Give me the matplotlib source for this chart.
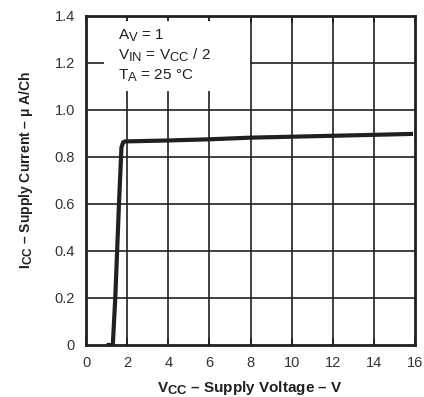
import matplotlib
matplotlib.use("Agg")
import matplotlib.pyplot as plt
import matplotlib._mathtext as mathtext_internals
from matplotlib.patches import Rectangle

plt.rcParams["font.family"] = ["Liberation Sans", "DejaVu Sans"]
plt.rcParams["mathtext.fontset"] = "custom"
plt.rcParams["mathtext.rm"] = "Liberation Sans"
plt.rcParams["mathtext.bf"] = "Liberation Sans:bold"
# datasheet style subscripts are only slightly smaller than the main text
mathtext_internals.SHRINK_FACTOR = 0.85

# supply current vs supply voltage (A_V = 1, T_A = 25 C)
vcc = [1.0, 1.3, 1.42, 1.6, 1.72, 1.8, 1.9, 4.0, 6.0, 8.0, 10.0, 12.0, 14.0, 15.9]
icc = [0.0, 0.0, 0.2, 0.6, 0.84, 0.862, 0.866, 0.87, 0.875, 0.882, 0.886, 0.89, 0.894, 0.898]

x_ticks = [0, 2, 4, 6, 8, 10, 12, 14, 16]
y_ticks = [0, 0.2, 0.4, 0.6, 0.8, 1.0, 1.2, 1.4]
y_tick_labels = ["0", "0.2", "0.4", "0.6", "0.8", "1.0", "1.2", "1.4"]

ink = "#231f20"

fig = plt.figure(figsize=(4.24, 3.97), dpi=100)
ax = fig.add_axes([0.203, 0.131, 0.776, 0.829])

ax.set_xlim(0, 16)
ax.set_ylim(0, 1.4)

# grid drawn by hand so the note box can sit on top of it
for x in x_ticks[1:-1]:
    ax.axvline(x, color=ink, lw=1.2, zorder=1)
for y in y_ticks[1:-1]:
    ax.axhline(y, color=ink, lw=1.2, zorder=1)

ax.add_patch(Rectangle((0.85, 1.08), 7.1, 0.3, facecolor="white",
                       edgecolor="none", zorder=2))

ax.plot(vcc, icc, color=ink, lw=3.0, solid_capstyle="butt",
        solid_joinstyle="round", zorder=4)

notes = [r"A$\mathregular{_V}$ = 1",
         r"V$\mathregular{_{IN}}$ = V$\mathregular{_{CC}}$ / 2",
         r"T$\mathregular{_A}$ = 25 °C"]
for i, note in enumerate(notes):
    ax.text(1.55, 1.298 - i * 0.085, note, fontsize=11, color=ink,
            va="baseline", zorder=5)

ax.set_xticks(x_ticks)
ax.set_yticks(y_ticks)
ax.set_yticklabels(y_tick_labels)
ax.tick_params(axis="both", which="major", labelsize=10.5, colors="#333333",
               length=0, pad=8)
ax.tick_params(top=True, direction="in", length=5, width=1.2, color=ink)
ax.tick_params(axis="y", length=0)

for spine in ax.spines.values():
    spine.set_linewidth(2.0)
    spine.set_color(ink)
    spine.set_zorder(6)

ax.set_xlabel(r"V$\mathregular{_{CC}}$ – Supply Voltage – V",
              fontsize=11, fontweight="bold", color=ink)
ax.set_ylabel(r"I$\mathregular{_{CC}}$ – Supply Current – μ A/Ch",
              fontsize=10, fontweight="bold", color=ink)
ax.xaxis.set_label_coords(0.497, -0.103)
ax.yaxis.set_label_coords(-0.155, 0.532)

fig.savefig("out.png", dpi=100)
